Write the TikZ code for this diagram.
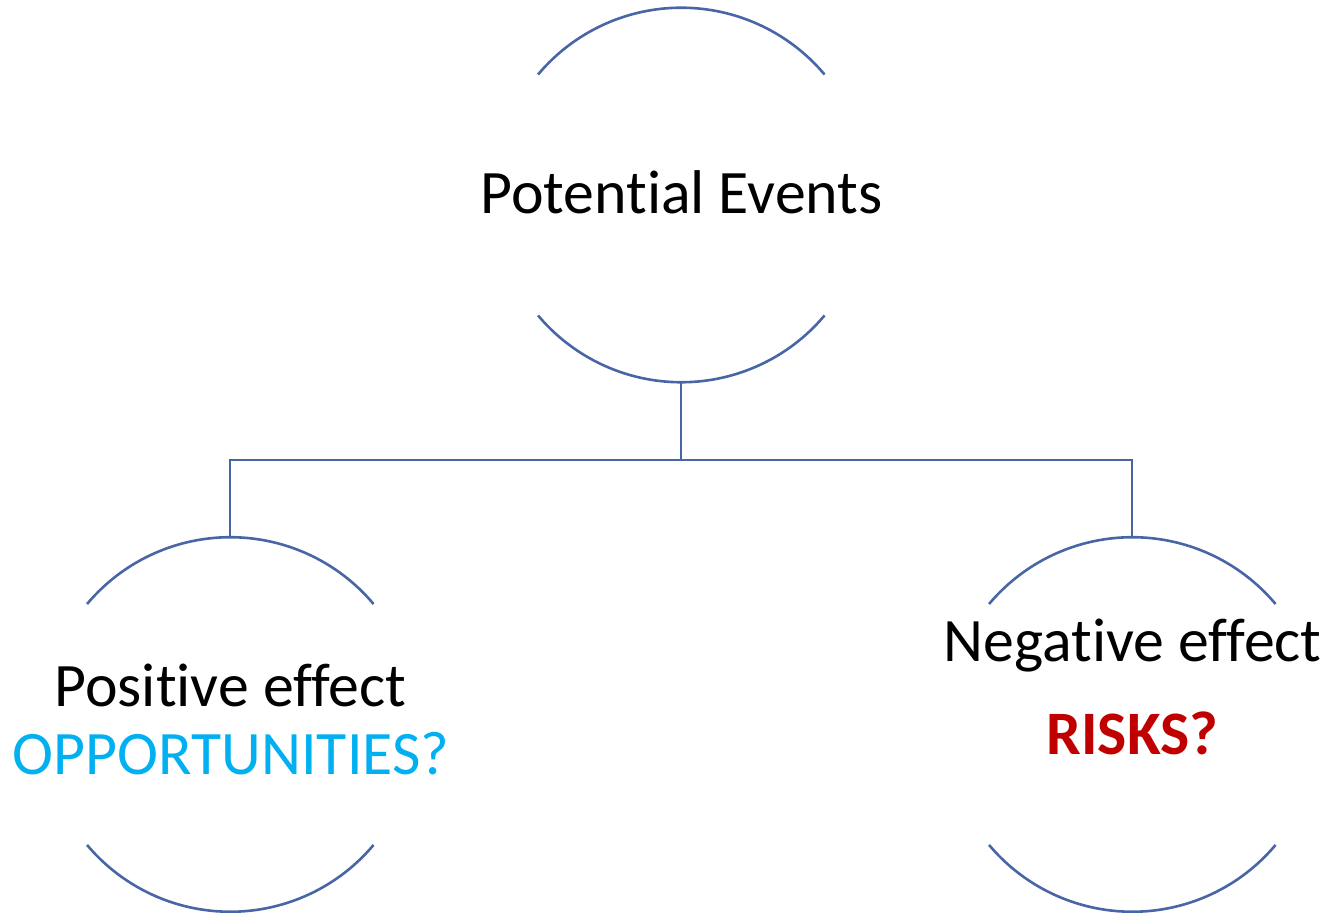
\documentclass[tikz,border=0pt]{standalone}
\usepackage{fontspec}
\setmainfont{Carlito}[Ligatures={NoCommon,NoContextual}]
\definecolor{linec}{RGB}{72,102,165}
\definecolor{oppc}{HTML}{00B0F0}
\definecolor{riskc}{HTML}{C00000}
\begin{document}
\begin{tikzpicture}[x=0.5pt,y=0.5pt,
  conn/.style={draw=linec, line width=1.3pt},
  ring/.style={circle, minimum size=187pt, inner sep=0pt},
  lbl/.style={anchor=base, font=\fontsize{30.9}{34}\selectfont}]
\useasboundingbox (0,0) rectangle (1329,913);
\node[ring] (pe) at (681,718) {};
\node[ring] (lc) at (230,188.5) {};
\node[ring] (rc) at (1132,188.5) {};
\foreach \n in {pe,lc,rc}{
  \draw[conn] (\n.40) arc[start angle=40,end angle=140,radius=93.5pt];
  \draw[conn] (\n.-40) arc[start angle=-40,end angle=-140,radius=93.5pt];
}
\coordinate (j) at (681,453);
\draw[conn] (pe.south) -- (j) -| (lc.north);
\draw[conn] (j) -| (rc.north);
\node[lbl] (t1) at (681.5,699) {Potential Events};
\node[lbl] (t2) at (230.5,206) {Positive effect};
\node[lbl, text=oppc] (t3) at (231,138) {OPPORTUNITIES?};
\node[lbl] (t4) at (1132.5,251) {Negative effect};
\node[lbl, text=riskc, font=\fontsize{30.9}{34}\selectfont\bfseries] (t5) at (1132.5,158) {RISKS?};
\end{tikzpicture}
\end{document}
